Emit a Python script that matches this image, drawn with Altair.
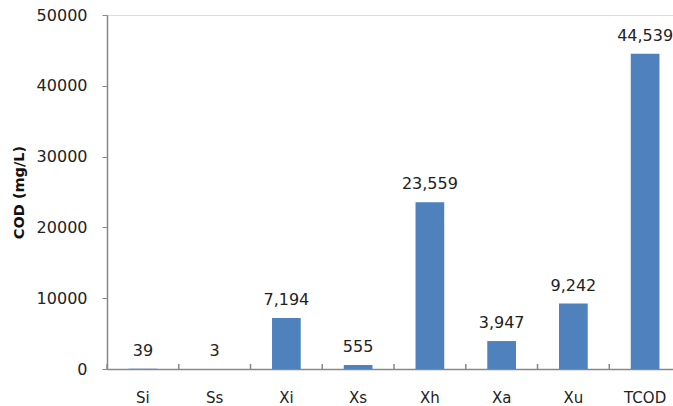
import altair as alt
import pandas as pd

categories = ["Si", "Ss", "Xi", "Xs", "Xh", "Xa", "Xu", "TCOD"]
values = [39, 3, 7194, 555, 23559, 3947, 9242, 44539]

df = pd.DataFrame({"cat": categories, "val": values})

W, H = 566, 354
STEP_RANGE = 574

xscale = alt.Scale(domain=categories, range=[0, STEP_RANGE], paddingInner=0.6, paddingOuter=0.3)
yscale = alt.Scale(domain=[0, 50000], nice=False)

base = alt.Chart(df)

bars = base.mark_bar(color="#4F81BD").encode(
    x=alt.X("cat:N", scale=xscale, sort=categories,
            axis=alt.Axis(title=None, labelAngle=0, ticks=False, labelPadding=21,
                          labelFontSize=15, labelFont="DejaVu Sans", labelColor="#222",
                          domainColor="#888888", domainWidth=1.5)),
    y=alt.Y("val:Q", scale=yscale,
            axis=alt.Axis(title="COD (mg/L)", values=[0, 10000, 20000, 30000, 40000, 50000],
                          format="d", grid=False, tickSize=5, tickColor="#888888",
                          domainColor="#888888", domainWidth=1.5, labelPadding=15,
                          labelFontSize=16, labelFont="DejaVu Sans", labelColor="#222",
                          titleFontSize=14.5, titleFont="DejaVu Sans", titleFontWeight="bold",
                          titleColor="#111", titlePadding=10)),
)

labels = base.mark_text(dy=-10, baseline="bottom", fontSize=16, font="DejaVu Sans", color="#222").encode(
    x=alt.X("cat:N", scale=xscale, sort=categories),
    y=alt.Y("val:Q", scale=yscale),
    text=alt.Text("val:Q", format=","),
)

ticks = base.mark_rule(color="#888888", strokeWidth=1.5, xOffset=-21.5).encode(
    x=alt.X("cat:N", scale=xscale, sort=categories, bandPosition=0),
    y=alt.value(H - 5),
    y2=alt.value(H),
)

chart = alt.layer(bars, ticks, labels).properties(
    width=W, height=H,
    autosize=alt.AutoSizeParams(type="none"),
    padding={"left": 107, "top": 15, "right": 0, "bottom": 37},
).configure_view(stroke=None).configure(background="white")

chart.save("out.html", embed_options={"renderer": "svg", "actions": False})
